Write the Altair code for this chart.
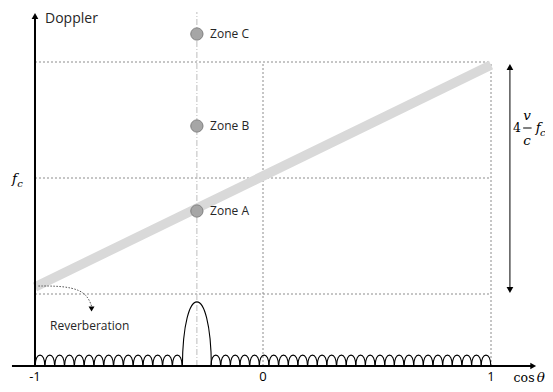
import altair as alt
import pandas as pd

# ---------------- data (x = cos(theta), y = Doppler in diagram units) ----------------
X_DOM = [-1.1184, 1.2368]
Y_DOM = [-18, 358]

FC = 188          # carrier frequency level
F_TOP = 304       # fc + 2 v/c fc
F_BOT = 72        # fc - 2 v/c fc

ridge_x = [-1.0, 1.0]
ridge_y = [79, 301]

zone_names = ["Zone C", "Zone B", "Zone A"]
zone_x = [-0.29, -0.29, -0.29]
zone_y = [332, 240, 155]

left_lobes = [-0.978, -0.935, -0.892, -0.849, -0.806, -0.763, -0.720, -0.677,
              -0.634, -0.591, -0.548, -0.505, -0.462, -0.419, -0.376]
right_lobes = [-0.207, -0.164, -0.122, -0.080, -0.037, 0.005, 0.047, 0.090,
               0.132, 0.174, 0.217, 0.259, 0.301, 0.344, 0.386, 0.428, 0.470,
               0.513, 0.555, 0.597, 0.640, 0.682, 0.724, 0.767, 0.809, 0.851,
               0.894, 0.936, 0.978]
main_lobe_x = [-0.29]

reverb_x = [-0.985, -0.88, -0.80, -0.765, -0.752]
reverb_y = [80, 80, 76, 68, 60]

tick_vals = [-1, 0, 1]
tick_labels = ["-1", "0", "1"]

# ---------------- helpers ----------------
xs = alt.Scale(domain=X_DOM, nice=False, zero=False)
ys = alt.Scale(domain=Y_DOM, nice=False, zero=False)


def enc(chart, x="x", y="y", **kw):
    return chart.encode(x=alt.X(f"{x}:Q", scale=xs, axis=None),
                        y=alt.Y(f"{y}:Q", scale=ys, axis=None), **kw)


def segs(rows, **style):
    df = pd.DataFrame(rows, columns=["x", "y", "x2", "y2"])
    return alt.Chart(df).mark_rule(**style).encode(
        x=alt.X("x:Q", scale=xs, axis=None), y=alt.Y("y:Q", scale=ys, axis=None),
        x2="x2:Q", y2="y2:Q")


def text(rows, **style):
    df = pd.DataFrame(rows, columns=["x", "y", "t"])
    return enc(alt.Chart(df).mark_text(**style), text="t:N")


# dotted guide lines
guides = segs([[-1, F_TOP, 1, F_TOP], [-1, FC, 1, FC], [-1, F_BOT, 1, F_BOT],
               [0, 0, 0, F_TOP], [1, 0, 1, F_TOP]],
              color="#8c8c8c", strokeDash=[2, 2], strokeWidth=1)

dashdot = segs([[zone_x[0], 0, zone_x[0], 354]],
               color="#bdbdbd", strokeDash=[6, 2, 1, 2], strokeWidth=1)

ridge = enc(alt.Chart(pd.DataFrame({"x": ridge_x, "y": ridge_y})).mark_line(
    color="#d9d9d9", strokeWidth=9.5, strokeCap="butt"))

zones = enc(alt.Chart(pd.DataFrame({"x": zone_x, "y": zone_y})).mark_point(
    shape="circle", filled=True, size=150, color="#a6a6a6", stroke="#7f7f7f",
    strokeWidth=1, opacity=1))

zone_txt = text([[-0.232, y, n] for n, y in zip(zone_names, zone_y)],
                align="left", baseline="middle", font="Open Sans", fontSize=12,
                color="#262626")

arch = "M-1,0 C-1,-3 1,-3 1,0"
side = enc(alt.Chart(pd.DataFrame({"x": left_lobes + right_lobes,
                                   "y": [0] * (len(left_lobes) + len(right_lobes))}))
           .mark_point(shape=arch, filled=False, size=94, color="black",
                       strokeWidth=1.1, opacity=1))

main = enc(alt.Chart(pd.DataFrame({"x": main_lobe_x, "y": [0]})).mark_point(
    shape="M-1,0 C-0.95,-5.9 0.95,-5.9 1,0", filled=False, size=841,
    color="black", strokeWidth=1.1, opacity=1))

axes = segs([[-1.101, 0, 1.18, 0], [-1, 0, -1, 350]], color="black", strokeWidth=2)

arrow_v = segs([[1.083, 76, 1.083, 298]], color="black", strokeWidth=1)

heads = pd.DataFrame({"x": [-1, 1.185, 1.083, 1.083],
                      "y": [350, 0, 299, 76],
                      "s": ["triangle-up", "triangle-right", "triangle-up", "triangle-down"]})
head_marks = alt.layer(*[
    enc(alt.Chart(heads[heads.s == s]).mark_point(shape=s, filled=True, size=45,
                                                  color="black", opacity=1))
    for s in heads.s.unique()])

reverb = enc(alt.Chart(pd.DataFrame({"x": reverb_x, "y": reverb_y, "o": range(len(reverb_x))}))
             .mark_line(color="#555555", strokeDash=[1.5, 1.5], strokeWidth=1,
                        interpolate="basis"), order="o:Q")
reverb_head = enc(alt.Chart(pd.DataFrame({"x": [-0.752], "y": [57]})).mark_point(
    shape="triangle-down", filled=True, size=35, color="black", opacity=1))

labels = text([[-0.956, 347, "Doppler"]], align="left", baseline="middle",
              font="Open Sans", fontSize=14, color="#262626")
reverb_txt = text([[-0.934, 40, "Reverberation"]], align="left", baseline="middle",
                  font="Open Sans", fontSize=12, color="#262626")
ticks = text([[v, -11, t] for v, t in zip(tick_vals, tick_labels)], align="center",
             baseline="middle", font="Open Sans", fontSize=13, color="black")

math_r = text([[1.145, -12, "cos"], [1.114, 238, "4"]], align="center",
              baseline="middle", font="DejaVu Serif", fontSize=12.5, color="black")
math_i = text([[1.218, -12, "θ"], [1.158, 250, "v"], [1.158, 225, "c"],
               [1.207, 238, "f"], [-1.09, 187, "f"]],
              align="center", baseline="middle", font="DejaVu Serif",
              fontStyle="italic", fontSize=13.5, color="black")
math_sub = text([[1.227, 233, "c"], [-1.066, 182, "c"]], align="center",
                baseline="middle", font="DejaVu Serif", fontStyle="italic",
                fontSize=10, color="black")
frac = segs([[1.141, 238, 1.178, 238]], color="black", strokeWidth=1)

chart = alt.layer(guides, dashdot, ridge, side, main, axes, arrow_v, head_marks,
                  reverb, reverb_head, zones, zone_txt, labels, reverb_txt, ticks,
                  math_r, math_i, math_sub, frac).properties(
    width=537, height=376, padding=0,
    autosize=alt.AutoSizeParams(type="none")
).configure_view(stroke=None)

chart.save("out.html", embed_options={"renderer": "svg", "actions": False})
